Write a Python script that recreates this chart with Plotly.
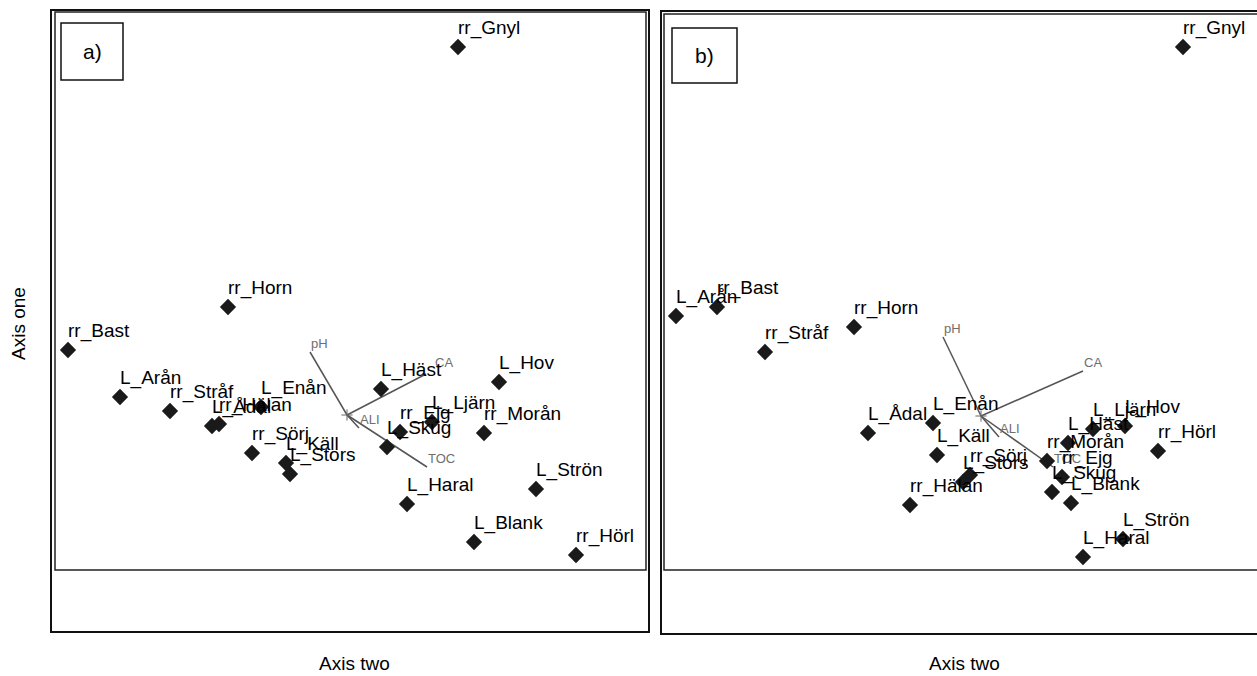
import plotly.graph_objects as go

W, H = 1257, 676

# ---- data (ordination scores) ----
sites_a = ["rr_Gnyl", "rr_Horn", "rr_Bast", "L_Arån", "rr_Stråf", "L_Ådal", "rr_Hälan",
           "L_Enån", "rr_Sörj", "L_Käll", "L_Stors", "L_Häst", "L_Skug", "rr_Ejg",
           "L_Ljärn", "L_Hov", "rr_Morån", "L_Haral", "L_Strön", "L_Blank", "rr_Hörl"]
axis2_a = [1.11, -1.19, -2.79, -2.27, -1.77, -1.35, -1.28, -0.86, -0.95, -0.61, -0.57,
           0.34, 0.40, 0.53, 0.85, 1.52, 1.37, 0.60, 1.89, 1.27, 2.29]
axis1_a = [3.68, 1.08, 0.65, 0.18, 0.04, -0.11, -0.09, 0.08, -0.38, -0.48, -0.59,
           0.26, -0.32, -0.17, -0.07, 0.33, -0.18, -0.89, -0.74, -1.27, -1.40]

sites_b = ["rr_Gnyl", "L_Arån", "rr_Bast", "rr_Horn", "rr_Stråf", "L_Ådal", "L_Enån",
           "L_Käll", "rr_Sörj", "L_Stors", "rr_Hälan", "L_Häst", "L_Ljärn", "L_Hov",
           "rr_Morån", "rr_Hörl", "rr_Ejg", "L_Skug", "L_Blank", "L_Strön", "L_Haral"]
axis2_b = [2.02, -3.05, -2.64, -1.27, -2.16, -1.13, -0.48, -0.44, -0.11, -0.18, -0.71,
           0.87, 1.12, 1.44, 0.66, 1.77, 0.81, 0.71, 0.90, 1.42, 1.02]
axis1_b = [3.69, 1.00, 1.09, 0.89, 0.64, -0.17, -0.07, -0.39, -0.59, -0.66, -0.89,
           -0.27, -0.13, -0.10, -0.45, -0.35, -0.61, -0.76, -0.87, -1.23, -1.41]

env_vars = ["pH", "CA", "ALI", "TOC"]
env2_a = [-0.37, 0.79, 0.12, 0.80]
env1_a = [0.63, 0.41, -0.13, -0.52]
env2_b = [-0.38, 1.02, 0.18, 0.72]
env1_b = [0.79, 0.45, -0.21, -0.51]

panel_labels = ["a)", "b)"]

FONT = "Liberation Sans, Arial, sans-serif"

def px_x(p):
    return p / W

def px_y(p):
    return 1 - p / H

fig = go.Figure()

panels = [
    dict(xa="x", ya="y", sx=axis2_a, sy=axis1_a, names=sites_a, ex=env2_a, ey=env1_a,
         eshift={"CA": (7, 12)}),
    dict(xa="x2", ya="y2", sx=axis2_b, sy=axis1_b, names=sites_b, ex=env2_b, ey=env1_b,
         eshift={}),
]

annotations = []
for p in panels:
    # environmental vectors
    lx, ly = [], []
    for vx, vy in zip(p["ex"], p["ey"]):
        lx += [0, vx, None]
        ly += [0, vy, None]
    fig.add_trace(go.Scatter(x=lx, y=ly, mode="lines", xaxis=p["xa"], yaxis=p["ya"],
                             line=dict(color="#555555", width=1.5), hoverinfo="skip",
                             showlegend=False))
    fig.add_trace(go.Scatter(x=[0], y=[0], mode="markers", xaxis=p["xa"], yaxis=p["ya"],
                             marker=dict(symbol="cross-thin", size=8,
                                         line=dict(color="#666666", width=1)),
                             hoverinfo="skip", showlegend=False))
    # sites
    fig.add_trace(go.Scatter(x=p["sx"], y=p["sy"], mode="markers", xaxis=p["xa"], yaxis=p["ya"],
                             marker=dict(symbol="diamond", size=12.5, color="#1a1a1a"),
                             text=p["names"], hoverinfo="text", showlegend=False))
    for name, vx, vy in zip(env_vars, p["ex"], p["ey"]):
        xs, ys = p["eshift"].get(name, (-1, 9))
        annotations.append(dict(x=vx, y=vy, xref=p["xa"], yref=p["ya"], text=name,
                                showarrow=False, xanchor="left", yanchor="middle",
                                xshift=xs, yshift=ys,
                                font=dict(family=FONT, size=13, color="#6e6e6e")))
    for name, vx, vy in zip(p["names"], p["sx"], p["sy"]):
        annotations.append(dict(x=vx, y=vy, xref=p["xa"], yref=p["ya"], text=name,
                                showarrow=False, xanchor="left", yanchor="middle",
                                xshift=-2, yshift=19,
                                font=dict(family=FONT, size=19, color="#000000")))

# panel letters
annotations.append(dict(x=px_x(92), y=px_y(52), xref="paper", yref="paper", text=panel_labels[0],
                        showarrow=False, xanchor="center", yanchor="middle",
                        font=dict(family=FONT, size=21, color="#000")))
annotations.append(dict(x=px_x(704), y=px_y(56), xref="paper", yref="paper", text=panel_labels[1],
                        showarrow=False, xanchor="center", yanchor="middle",
                        font=dict(family=FONT, size=21, color="#000")))
# axis titles
annotations.append(dict(x=px_x(18), y=px_y(324), xref="paper", yref="paper", text="Axis one",
                        showarrow=False, textangle=-90, xanchor="center", yanchor="middle",
                        font=dict(family=FONT, size=19, color="#000")))
for cx in (354, 965):
    annotations.append(dict(x=px_x(cx), y=px_y(663), xref="paper", yref="paper", text="Axis two",
                            showarrow=False, xanchor="center", yanchor="middle",
                            font=dict(family=FONT, size=19, color="#000")))

def rect(x0, y0, x1, y1, w, color="#111111"):
    return dict(type="rect", xref="paper", yref="paper", x0=px_x(x0), x1=px_x(x1),
                y0=px_y(y1), y1=px_y(y0), line=dict(color=color, width=w), layer="above")

shapes = [
    rect(51, 10, 649, 632, 2),
    rect(55, 12, 646, 570, 1.5, "#222222"),
    rect(661, 11, 1262, 634, 2),
    rect(664, 14, 1260, 570, 1.5, "#222222"),
    rect(61, 23, 123, 80, 1.5),
    rect(672, 28, 737, 83, 1.5),
]

axis_common = dict(showgrid=False, zeroline=False, showticklabels=False, ticks="",
                   showline=False, fixedrange=True)

fig.update_layout(
    width=W, height=H,
    margin=dict(l=0, r=0, t=0, b=0),
    paper_bgcolor="white", plot_bgcolor="white",
    xaxis=dict(domain=[px_x(55), px_x(646)], range=[(55 - 347) / 100, (646 - 347) / 100], **axis_common),
    yaxis=dict(domain=[px_y(570), px_y(12)], range=[(415 - 570) / 100, (415 - 12) / 100], **axis_common),
    xaxis2=dict(domain=[px_x(664), 1.0], range=[(664 - 981) / 100, (1257 - 981) / 100],
                anchor="y2", **axis_common),
    yaxis2=dict(domain=[px_y(570), px_y(14)], range=[(416 - 570) / 100, (416 - 14) / 100],
                anchor="x2", **axis_common),
    annotations=annotations,
    shapes=shapes,
    showlegend=False,
)

fig.write_html("out.html", config={"displayModeBar": False})

# remove the browser's default page margin so the figure sits at the top-left corner
with open("out.html", "r", encoding="utf-8") as f:
    html = f.read()
html = html.replace("<head>", "<head><style>html,body{margin:0;padding:0;overflow:hidden;}</style>", 1)
with open("out.html", "w", encoding="utf-8") as f:
    f.write(html)
